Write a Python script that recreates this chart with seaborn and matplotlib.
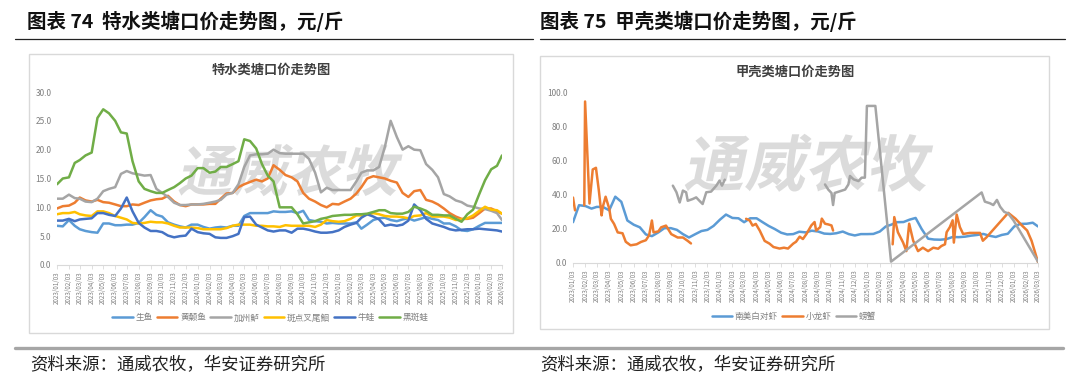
import matplotlib.pyplot as plt
import matplotlib.patches as mpatches
from matplotlib.lines import Line2D
from matplotlib.textpath import TextPath
from matplotlib.font_manager import FontProperties
from matplotlib.transforms import Affine2D
import numpy as np
import pandas as pd
import seaborn as sns

# ---------------- data ----------------
tick_dates = pd.date_range("2023-01-01", "2026-03-01", freq="MS") + pd.Timedelta(days=2)
tick_labels = [d.strftime("%Y/%m/%d") for d in tick_dates]
# half-month sampling (3rd and 18th of each month)
half_month = sorted(list(tick_dates) + list(tick_dates[:-1] + pd.Timedelta(days=15)))

# 特水类 (left chart)
snakehead = [6.8, 6.7, 7.8, 6.8, 6.2, 5.9, 5.7, 5.6, 7.2, 7.2, 6.9, 6.9, 7.0, 7.0, 7.3, 8.3, 9.5, 8.7, 8.4, 7.4,
             7.0, 6.7, 6.5, 7.0, 7.0, 6.6, 6.3, 6.5, 6.6, 6.5, 6.8, 6.8, 8.5, 9.0, 9.0, 9.0, 9.0, 9.3,
             9.2, 9.2, 9.3, 9.0, 9.4, 7.8, 7.6, 7.5, 7.2, 7.3, 7.2, 7.2, 7.2, 7.4, 6.3, 7.0, 7.8, 8.1, 8.2, 7.8,
             7.6, 7.9, 8.1, 7.7, 8.0, 8.3, 8.0, 7.8, 7.2, 7.2, 6.7, 6.0, 5.9, 6.2, 6.8, 7.3, 7.3, 7.3, 7.3]
yellow_catfish = [9.8, 10.2, 10.3, 10.8, 11.7, 11.2, 11.0, 11.3, 10.9, 10.8, 10.5, 10.2, 10.2, 10.5, 10.4, 10.8,
                  11.2, 11.4, 11.5, 12.0, 11.0, 10.4, 10.2, 10.5, 10.5, 10.5, 10.6, 10.6, 11.5, 12.4, 12.5, 13.5,
                  14.0, 14.4, 14.8, 14.5, 15.0, 17.3,
                  16.5, 15.6, 15.2, 14.5, 12.5, 11.5, 11.0, 10.4, 10.0, 10.6, 10.5, 11.0, 11.5, 12.4, 13.5, 15.0,
                  15.4, 15.2, 15.0, 14.6, 14.3, 12.5, 11.8, 12.8, 13.0, 11.3, 11.0, 10.5, 9.8, 9.0, 8.4, 8.0, 8.0,
                  8.2, 9.0, 9.8, 9.8, 9.3, 8.9]
bass = [11.5, 11.5, 12.2, 11.6, 11.5, 11.0, 10.9, 11.5, 12.8, 13.2, 13.5, 15.8, 16.3, 15.9, 15.7, 15.5, 15.6,
        13.2, 12.5, 11.8, 10.8, 10.4, 10.4, 10.5, 10.5, 10.6, 10.8, 11.0, 11.3, 12.2, 12.5, 14.0, 17.0, 19.0,
        19.2, 19.2, 19.3, 20.0,
        19.4, 19.3, 19.3, 19.3, 19.3, 18.4, 16.0, 12.6, 13.4, 13.0, 13.0, 13.0, 13.0, 14.5, 16.0, 16.4, 16.4,
        17.0, 20.5, 25.0, 22.2, 20.0, 20.6, 20.0, 19.9, 17.5, 16.5, 15.2, 12.3, 11.9, 11.2, 10.9, 10.3, 10.1,
        9.8, 9.7, 9.4, 9.0, 7.8]
channel_catfish = [8.8, 9.0, 9.0, 9.2, 8.8, 8.6, 8.5, 9.3, 9.3, 9.0, 8.5, 8.2, 7.9, 7.3, 7.2, 7.3, 7.5, 7.4, 7.4,
                   7.2, 6.8, 6.5, 6.5, 6.5, 6.4, 6.2, 6.2, 6.2, 6.2, 6.4, 6.8, 7.0, 7.0, 7.0, 6.8, 6.8, 6.7, 6.7,
                   6.6, 6.9, 6.8, 6.8, 6.8, 6.8, 6.6, 7.0, 7.8, 7.6, 7.5, 7.6, 8.0, 8.6, 8.6, 8.7, 9.0, 8.8,
                   8.5, 8.4, 8.4, 8.3, 8.1, 8.5, 8.6, 9.0, 8.4, 8.4, 8.4, 8.2, 7.8, 7.9, 8.1, 8.6, 9.4, 10.1,
                   9.6, 9.5, 8.9]
bullfrog = [7.7, 7.7, 8.0, 7.6, 7.9, 8.0, 8.1, 9.0, 9.0, 8.7, 8.5, 9.8, 11.7, 9.3, 7.3, 6.5, 5.9, 5.9, 5.7,
            5.1, 4.8, 5.0, 5.1, 6.3, 5.7, 5.5, 5.4, 4.8, 4.7, 4.7, 5.0, 5.4, 8.3, 8.4, 7.0, 6.5, 6.0, 5.8,
            6.0, 6.0, 5.6, 6.3, 6.3, 6.1, 5.8, 5.6, 5.6, 5.7, 6.0, 6.6, 7.0, 7.3, 8.2, 8.8, 8.4, 7.9, 6.8,
            7.0, 6.8, 7.0, 7.7, 10.5, 9.5, 8.0, 7.2, 6.9, 6.6, 6.2, 6.0, 6.1, 6.2, 6.2, 6.3, 6.2, 6.1, 6.0, 5.8]
black_frog = [14.0, 15.0, 15.2, 17.7, 18.2, 19.0, 19.5, 25.5, 27.0, 26.3, 25.0, 23.0, 22.8, 18.0, 14.5, 13.2,
              12.8, 12.5, 12.5, 13.0, 13.5, 14.2, 15.0, 15.5, 16.8, 16.8, 16.0, 16.2, 17.0, 17.0, 17.5, 18.0,
              21.8, 21.5, 20.2, 17.5, 15.5, 14.5,
              10.0, 10.0, 10.0, 8.8, 7.2, 7.4, 7.6, 8.0, 8.2, 8.5, 8.6, 8.7, 8.7, 8.8, 8.8, 8.9, 9.2, 9.5, 9.5,
              9.0, 8.9, 8.9, 9.2, 10.1, 9.8, 9.4, 8.7, 8.7, 8.6, 8.6, 8.0, 7.5, 8.8, 9.6, 12.3, 14.7, 16.6,
              17.2, 19.0]

# 甲壳类 (right chart)
white_shrimp = [24.0, 34.0, 33.5, 32.0, 33.0, 33.0, 31.0, 39.0, 36.0, 25.0, 22.5, 21.0, 16.8, 15.8, 18.0, 20.5,
                20.5, 19.5, 17.0, 15.0, 17.0, 18.8, 19.5, 21.8, 25.5, 28.5, 26.5, 26.3, 24.0, 26.3, 26.3, 24.0,
                21.8, 20.0, 17.8, 16.8, 17.0, 18.4,
                18.0, 19.0, 18.5, 17.3, 17.1, 17.5, 18.5, 17.0, 16.2, 17.0, 17.0, 17.1, 18.5, 21.5, 22.5, 24.0,
                24.1, 25.5, 26.5, 20.0, 14.3, 13.8, 13.7, 14.0, 15.3, 15.2, 15.5, 16.1, 16.5, 17.1, 16.0, 15.3,
                16.5, 17.2, 21.5, 23.0, 23.1, 23.7, 21.5]

crayfish_dates_1 = ["2023-01-03", "2023-01-08"]
crayfish_vals_1 = [38.5, 31.0]
crayfish_dates_2 = ["2023-01-31", "2023-02-02", "2023-02-13", "2023-02-21", "2023-03-01", "2023-03-08",
                    "2023-03-15", "2023-03-18", "2023-03-25", "2023-04-03", "2023-04-07", "2023-04-15",
                    "2023-04-24", "2023-05-06", "2023-05-14", "2023-05-26", "2023-06-10", "2023-06-21",
                    "2023-07-03", "2023-07-11", "2023-07-18", "2023-07-22", "2023-08-03", "2023-08-10",
                    "2023-08-22", "2023-09-04", "2023-09-20", "2023-10-03", "2023-10-15", "2023-10-23"]
crayfish_vals_2 = [34, 95, 35, 55, 56, 43, 28, 33, 39, 32, 26, 23, 18, 17.5, 12.5, 10.4, 11, 12.4, 13.4, 16.3,
                   25, 18, 18.6, 21, 22, 17, 15, 15, 13, 11.5]
crayfish_dates_3 = ["2024-03-08", "2024-03-17", "2024-03-24", "2024-04-01", "2024-04-11", "2024-04-23",
                    "2024-05-05", "2024-05-15", "2024-05-30", "2024-06-10", "2024-06-20", "2024-07-03",
                    "2024-07-10", "2024-07-19", "2024-07-27", "2024-08-05", "2024-08-17", "2024-08-25",
                    "2024-08-29", "2024-09-08", "2024-09-12", "2024-09-20", "2024-09-28", "2024-10-06",
                    "2024-10-10"]
crayfish_vals_3 = [26, 25, 22, 23, 19, 13, 11.4, 9.4, 8.5, 9.0, 8.5, 11.4, 12.5, 15.5, 14.1, 17.1, 22.1, 24.1,
                   19.1, 21.1, 26.1, 23.1, 22.7, 22.1, 19.1]
crayfish_dates_4 = ["2025-03-07", "2025-03-11", "2025-03-20", "2025-04-02", "2025-04-10", "2025-04-17",
                    "2025-04-27", "2025-05-09", "2025-05-21", "2025-06-03", "2025-06-16", "2025-06-28",
                    "2025-07-06", "2025-07-15", "2025-07-19", "2025-07-27", "2025-08-03", "2025-08-06",
                    "2025-08-13", "2025-08-21", "2025-08-29", "2025-09-15", "2025-10-10", "2025-10-17",
                    "2025-10-26", "2025-12-19", "2026-01-06", "2026-01-22", "2026-02-04", "2026-02-15",
                    "2026-03-03"]
crayfish_vals_4 = [11.0, 27.0, 18.1, 12.0, 7.0, 23.1, 13.1, 7.0, 9.0, 7.0, 9.0, 8.4, 10.0, 11.0, 18.1, 21.1,
                   25.1, 12.0, 28.5, 21.1, 17.1, 17.7, 17.7, 13.1, 15.1, 29.5, 26.1, 22.1, 19.1, 13.1, 0.5]

crab_dates_1 = ["2023-09-08", "2023-09-17", "2023-09-25", "2023-10-03", "2023-10-11", "2023-10-15",
                "2023-10-27", "2023-11-05", "2023-11-13", "2023-11-21", "2023-11-30", "2023-12-12",
                "2023-12-25", "2024-01-02", "2024-01-08", "2024-01-15"]
crab_vals_1 = [45.5, 41.6, 35.6, 42.6, 41.6, 36.6, 37.6, 38.6, 36.6, 34.7, 41.6, 42.0, 45.5, 48.5, 45.5, 49.0]
crab_dates_2 = ["2024-09-20", "2024-09-28", "2024-10-06", "2024-10-10", "2024-10-14", "2024-10-27",
                "2024-11-09", "2024-11-17", "2024-11-21", "2024-11-30", "2024-12-12", "2024-12-20",
                "2024-12-28", "2025-01-02", "2025-01-23", "2025-03-03", "2025-10-14", "2025-10-22",
                "2025-11-04", "2025-11-12", "2025-11-21", "2025-11-29", "2025-12-09", "2025-12-19",
                "2026-01-01", "2026-03-03"]
crab_vals_2 = [46.2, 43.2, 41.2, 34.1, 41.2, 42.2, 43.2, 46.2, 51.2, 49.2, 48.2, 50.2, 50.2, 92.4, 92.4, 0.8,
               41.5, 36.1, 35.1, 34.1, 37.1, 33.1, 30.1, 29.1, 25.1, 0.8]

left_names = ["生鱼", "黄颡鱼", "加州鲈", "斑点叉尾鮰", "牛蛙", "黑斑蛙"]
left_colors = ["#5B9BD5", "#ED7D31", "#A5A5A5", "#FFC000", "#4472C4", "#70AD47"]
right_names = ["南美白对虾", "小龙虾", "螃蟹"]
right_colors = ["#5B9BD5", "#ED7D31", "#A5A5A5"]

# ---------------- frames ----------------
left_df = pd.DataFrame({"date": half_month, "生鱼": snakehead, "黄颡鱼": yellow_catfish, "加州鲈": bass,
                        "斑点叉尾鮰": channel_catfish, "牛蛙": bullfrog, "黑斑蛙": black_frog})
left_df = left_df.melt(id_vars="date", var_name="品种", value_name="价格")

parts = [pd.DataFrame({"date": half_month, "价格": white_shrimp, "品种": "南美白对虾", "seg": 0})]
for i, (d, v) in enumerate([(crayfish_dates_1, crayfish_vals_1), (crayfish_dates_2, crayfish_vals_2),
                            (crayfish_dates_3, crayfish_vals_3), (crayfish_dates_4, crayfish_vals_4)]):
    parts.append(pd.DataFrame({"date": pd.to_datetime(d), "价格": v, "品种": "小龙虾", "seg": 10 + i}))
for i, (d, v) in enumerate([(crab_dates_1, crab_vals_1), (crab_dates_2, crab_vals_2)]):
    parts.append(pd.DataFrame({"date": pd.to_datetime(d), "价格": v, "品种": "螃蟹", "seg": 20 + i}))
right_df = pd.concat(parts, ignore_index=True)
right_df["date"] = pd.to_datetime(right_df["date"])

# ---------------- figure ----------------
sns.set_theme(style="white")
plt.rcParams['font.family'] = ['Noto Sans CJK SC', 'DejaVu Sans']

W, H = 1080, 384
fig = plt.figure(figsize=(W / 100, H / 100), dpi=100)

def fx(px):
    return px / W

def fy(py):
    return 1 - py / H

# headers + rules
fig.text(fx(27), fy(21), "图表 74  特水类塘口价走势图，元/斤", fontsize=14, fontweight="bold", va="center", color="#111111")
fig.text(fx(540), fy(21), "图表 75  甲壳类塘口价走势图，元/斤", fontsize=14, fontweight="bold", va="center", color="#111111")
fig.add_artist(Line2D([fx(15), fx(533)], [fy(38.5)] * 2, color="#222222", lw=0.9))
fig.add_artist(Line2D([fx(540), fx(1065)], [fy(38.5)] * 2, color="#222222", lw=0.9))
fig.add_artist(Line2D([fx(15), fx(1063)], [fy(347.5)] * 2, color="#A6A6A6", lw=2.4))
fig.text(fx(30), fy(365), "资料来源：通威农牧，华安证券研究所", fontsize=12.5, va="center", color="#222222")
fig.text(fx(540), fy(365), "资料来源：通威农牧，华安证券研究所", fontsize=12.5, va="center", color="#222222")

# chart frames
fig.add_artist(mpatches.Rectangle((fx(29), fy(333)), fx(484), 279 / H, transform=fig.transFigure,
                                  fill=False, edgecolor="#D9D9D9", lw=1))
fig.add_artist(mpatches.Rectangle((fx(540), fy(329)), fx(509), 273 / H, transform=fig.transFigure,
                                  fill=False, edgecolor="#D9D9D9", lw=1))
fig.text(fx(271), fy(70), "特水类塘口价走势图", ha="center", va="center", fontsize=9.5, fontweight="bold", color="#404040")
fig.text(fx(795), fy(72), "甲壳类塘口价走势图", ha="center", va="center", fontsize=9.5, fontweight="bold", color="#404040")

ax1 = fig.add_axes([fx(57), fy(265), fx(445), 173 / H])
ax2 = fig.add_axes([fx(573), fy(263), fx(465), 170 / H])

sns.lineplot(data=left_df, x="date", y="价格", hue="品种", hue_order=left_names, palette=left_colors,
             linewidth=1.8, ax=ax1)
sns.lineplot(data=right_df, x="date", y="价格", hue="品种", hue_order=right_names, palette=right_colors,
             units="seg", estimator=None, linewidth=1.8, ax=ax2)


def watermark(ax, x, y, size):
    fp = FontProperties(family="Noto Sans CJK SC", weight="bold")
    tp = TextPath((0, 0), "通威农牧", size=size, prop=fp)
    tr = Affine2D().skew_deg(12, 0).translate(x, H - y)
    patch = mpatches.PathPatch(tp, transform=tr, facecolor="#C4C4C4", edgecolor="none", alpha=0.6,
                               zorder=1, clip_on=False)
    ax.add_artist(patch)


for ax, ymax, step, leg_x, leg_y in [(ax1, 30, 5, 0.479, -0.306), (ax2, 100, 20, 0.475, -0.312)]:
    ax.set_xlim(tick_dates[0], tick_dates[-1])
    ax.set_ylim(0, ymax)
    ax.set_yticks(np.arange(0, ymax + 1, step))
    ax.set_yticklabels([f"{v:.1f}" for v in np.arange(0, ymax + 1, step)])
    ax.set_xticks(tick_dates)
    ax.set_xticklabels(tick_labels, rotation=90)
    ax.tick_params(axis="x", bottom=True, length=3, width=0.6, color="#D9D9D9", labelsize=4.5,
                   labelcolor="#7F7F7F", pad=1.5)
    ax.tick_params(axis="y", left=False, length=0, labelsize=6, labelcolor="#7F7F7F", pad=4)
    for s in ["top", "right", "left"]:
        ax.spines[s].set_visible(False)
    ax.spines["bottom"].set_color("#D9D9D9")
    ax.spines["bottom"].set_linewidth(0.8)
    ax.set_xlabel("")
    ax.set_ylabel("")
    ax.set_facecolor("none")
    sns.move_legend(ax, "center", bbox_to_anchor=(leg_x, leg_y), ncol=6, frameon=False, title=None,
                    fontsize=6.2, handlelength=2.4, columnspacing=0.5, handletextpad=0.3,
                    labelcolor="#7F7F7F")

watermark(ax1, 177, 191, 55)
watermark(ax2, 683, 186, 61)

fig.savefig("out.png", dpi=100)
